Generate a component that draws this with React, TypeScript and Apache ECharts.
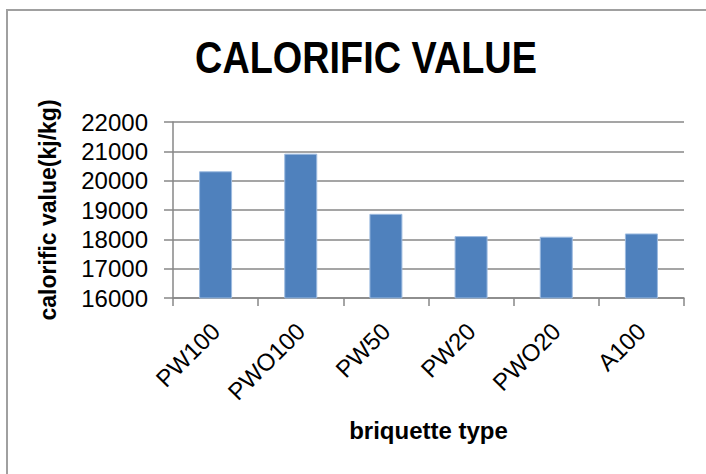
import React, { useEffect, useRef } from "react";
import * as echarts from "echarts";

const categories = ["PW100", "PWO100", "PW50", "PW20", "PWO20", "A100"];
const values = [20320, 20920, 18870, 18110, 18090, 18200];
const titleText = "CALORIFIC VALUE";
const xName = "briquette type";
const yName = "calorific value(kj/kg)";

const FONT = "'Liberation Sans', Arial, sans-serif";
const GRAY = "#878787";

export default function App() {
  const ref = useRef<HTMLDivElement>(null);
  useEffect(() => {
    document.body.style.margin = "0";
    const chart = echarts.init(ref.current!, null, { renderer: "svg" });
    chart.setOption({
      animation: false,
      backgroundColor: "#ffffff",
      grid: { left: 173, right: 22, top: 122, bottom: 176, outerBoundsMode: "none", containLabel: false },
      graphic: [
        {
          type: "rect",
          shape: { x: 7, y: 10, width: 720, height: 500 },
          style: { fill: "none", stroke: "#a0a0a0", lineWidth: 2 },
          silent: true,
        },
        {
          type: "text",
          x: 366,
          y: 58,
          scaleX: 0.86,
          style: {
            text: titleText,
            x: 0,
            y: 0,
            textAlign: "center",
            textVerticalAlign: "middle",
            fontFamily: FONT,
            fontWeight: "bold",
            fontSize: 44,
            fill: "#000",
          },
        },
      ],
      xAxis: {
        type: "category",
        data: categories,
        name: xName,
        nameLocation: "middle",
        nameGap: 120,
        nameTextStyle: { fontFamily: FONT, fontWeight: "bold", fontSize: 24, color: "#000" },
        axisLine: { show: true, lineStyle: { color: GRAY, width: 1.5 } },
        axisTick: { show: true, length: 8, lineStyle: { color: GRAY, width: 1.5 } },
        axisLabel: { interval: 0, rotate: 45, margin: 29, fontFamily: FONT, fontSize: 24, color: "#000" },
        splitLine: { show: false },
      },
      yAxis: {
        type: "value",
        min: 16000,
        max: 22000,
        interval: 1000,
        name: yName,
        nameLocation: "middle",
        nameGap: 114,
        nameTextStyle: { fontFamily: FONT, fontWeight: "bold", fontSize: 23, color: "#000" },
        axisLine: { show: true, lineStyle: { color: GRAY, width: 1.5 } },
        axisTick: { show: true, length: 9, lineStyle: { color: GRAY, width: 1.5 } },
        axisLabel: {
          margin: 25,
          fontFamily: FONT,
          fontSize: 24,
          color: "#000",
          formatter: (v: number) => String(v),
        },
        splitLine: { show: true, lineStyle: { color: GRAY, width: 1.5 } },
      },
      series: [
        {
          type: "bar",
          data: values,
          barWidth: 33,
          itemStyle: { color: "#4F81BD", borderColor: "#9dbbe0", borderWidth: 1 },
        },
      ],
    });
    return () => chart.dispose();
  }, []);
  return <div ref={ref} style={{ width: 706, height: 474 }} />;
}
